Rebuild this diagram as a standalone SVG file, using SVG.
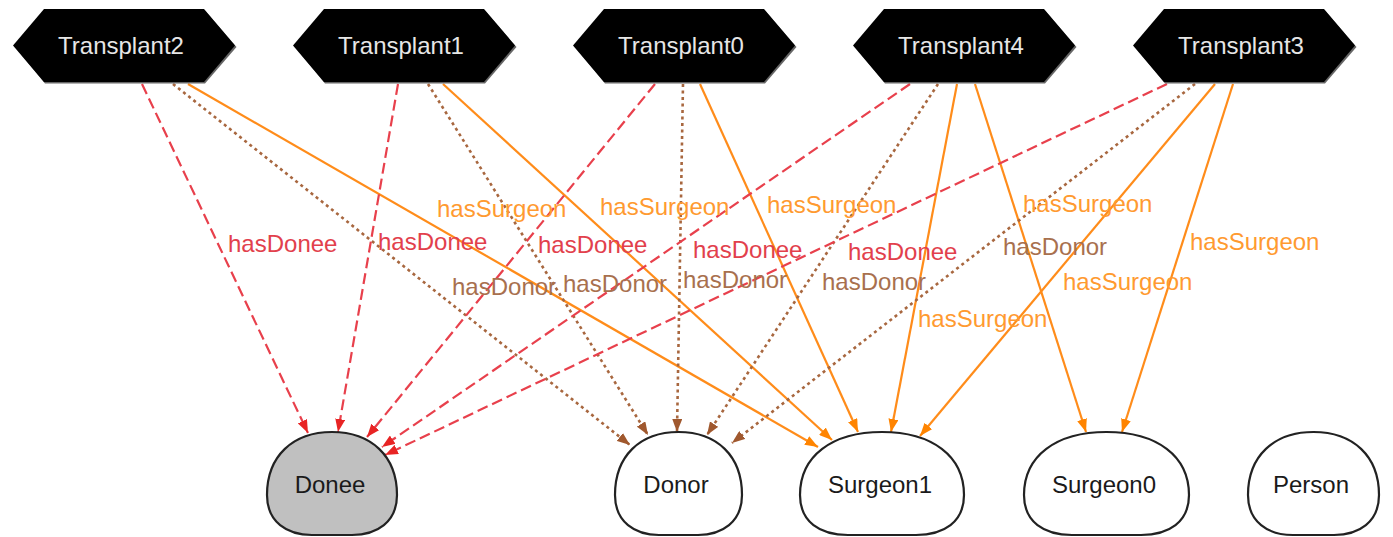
<svg xmlns="http://www.w3.org/2000/svg" width="1393" height="537" viewBox="0 0 1393 537">
<style>
text{font-family:"Liberation Sans",Arial,sans-serif;font-size:24px}
.hex{fill:#000}
.hexs{fill:#666}
.ht{fill:#e6e6e6;text-anchor:middle}
.cls{stroke:#222;stroke-width:2.2;fill:#fff}
.nt{fill:#1a1a1a;text-anchor:middle}
.don{stroke:#e8404c;stroke-width:2.2;stroke-dasharray:11,5;fill:none;marker-end:url(#ar)}
.dnr{stroke:#a8673f;stroke-width:2.6;stroke-dasharray:3,3.5;fill:none;marker-end:url(#ab)}
.sur{stroke:#ff8c1a;stroke-width:2.2;fill:none;marker-end:url(#ao)}
.ld{fill:#e2404c}
.lb{fill:#a8704e}
.lo{fill:#ff9a30}
</style>
<defs>
<marker id="ar" markerUnits="userSpaceOnUse" markerWidth="14" markerHeight="10" refX="13" refY="5" orient="auto"><path d="M0,0 L13,5 L0,10 z" fill="#e82424"/></marker>
<marker id="ab" markerUnits="userSpaceOnUse" markerWidth="14" markerHeight="10" refX="13" refY="5" orient="auto"><path d="M0,0 L13,5 L0,10 z" fill="#a0582e"/></marker>
<marker id="ao" markerUnits="userSpaceOnUse" markerWidth="14" markerHeight="10" refX="13" refY="5" orient="auto"><path d="M0,0 L13,5 L0,10 z" fill="#ff8400"/></marker>
</defs>
<g id="connectors">
<line class="don" x1="142" y1="84" x2="308" y2="433"/>
<line class="dnr" x1="173" y1="84" x2="630" y2="445"/>
<line class="sur" x1="188" y1="84" x2="818" y2="447"/>
<line class="don" x1="398" y1="84" x2="338" y2="432"/>
<line class="dnr" x1="428" y1="84" x2="648" y2="435"/>
<line class="sur" x1="443" y1="84" x2="832" y2="440"/>
<line class="don" x1="655" y1="84" x2="367" y2="437"/>
<line class="dnr" x1="683" y1="84" x2="677" y2="432"/>
<line class="sur" x1="700" y1="84" x2="858" y2="432"/>
<line class="don" x1="910" y1="84" x2="382" y2="447"/>
<line class="dnr" x1="938" y1="84" x2="707" y2="435"/>
<line class="sur" x1="957" y1="84" x2="891" y2="432"/>
<line class="sur" x1="975" y1="84" x2="1086" y2="432"/>
<line class="don" x1="1167" y1="84" x2="385" y2="455"/>
<line class="dnr" x1="1195" y1="84" x2="732" y2="443"/>
<line class="sur" x1="1215" y1="84" x2="920" y2="436"/>
<line class="sur" x1="1233" y1="84" x2="1122" y2="432"/>
<text class="ld" x="228" y="252">hasDonee</text>
<text class="ld" x="378" y="250">hasDonee</text>
<text class="ld" x="538" y="253">hasDonee</text>
<text class="ld" x="693" y="258">hasDonee</text>
<text class="ld" x="848" y="260">hasDonee</text>
<text class="lb" x="452" y="295">hasDonor</text>
<text class="lb" x="563" y="292">hasDonor</text>
<text class="lb" x="683" y="288">hasDonor</text>
<text class="lb" x="822" y="290">hasDonor</text>
<text class="lb" x="1003" y="255">hasDonor</text>
<text class="lo" x="437" y="217">hasSurgeon</text>
<text class="lo" x="600" y="215">hasSurgeon</text>
<text class="lo" x="767" y="213">hasSurgeon</text>
<text class="lo" x="918" y="327">hasSurgeon</text>
<text class="lo" x="1023" y="212">hasSurgeon</text>
<text class="lo" x="1063" y="290">hasSurgeon</text>
<text class="lo" x="1190" y="250">hasSurgeon</text>
</g>
<g id="Transplant2">
<polygon class="hexs" points="15,47 45,10.5 205,10.5 236.5,47 205,83.5 45,83.5"/>
<polygon class="hex" points="13,45.5 44,9 204,9 235,45.5 204,82 44,82"/>
<text class="ht" x="121" y="54">Transplant2</text>
</g>
<g id="Transplant1">
<polygon class="hexs" points="295,47 325,10.5 485,10.5 516.5,47 485,83.5 325,83.5"/>
<polygon class="hex" points="293,45.5 324,9 484,9 515,45.5 484,82 324,82"/>
<text class="ht" x="401" y="54">Transplant1</text>
</g>
<g id="Transplant0">
<polygon class="hexs" points="575,47 605,10.5 765,10.5 796.5,47 765,83.5 605,83.5"/>
<polygon class="hex" points="573,45.5 604,9 764,9 795,45.5 764,82 604,82"/>
<text class="ht" x="681" y="54">Transplant0</text>
</g>
<g id="Transplant4">
<polygon class="hexs" points="855,47 885,10.5 1045,10.5 1076.5,47 1045,83.5 885,83.5"/>
<polygon class="hex" points="853,45.5 884,9 1044,9 1075,45.5 1044,82 884,82"/>
<text class="ht" x="961" y="54">Transplant4</text>
</g>
<g id="Transplant3">
<polygon class="hexs" points="1135,47 1165,10.5 1325,10.5 1356.5,47 1325,83.5 1165,83.5"/>
<polygon class="hex" points="1133,45.5 1164,9 1324,9 1355,45.5 1324,82 1164,82"/>
<text class="ht" x="1241" y="54">Transplant3</text>
</g>
<g id="Donee">
<path class="cls" style="fill:#c0c0c0" d="M267,495 C267,456 293,432 332,432 C371,432 397,456 397,495 C397,522 377,535 352,535 L312,535 C287,535 267,522 267,495 Z"/>
<text class="nt" x="330" y="493">Donee</text>
</g>
<g id="Donor">
<path class="cls" d="M615,495 C615,456 640,432 678.5,432 C717,432 742,456 742,495 C742,522 722,535 698,535 L659,535 C635,535 615,522 615,495 Z"/>
<text class="nt" x="676" y="493">Donor</text>
</g>
<g id="Surgeon1">
<path class="cls" d="M800,495 C800,456 832,432 882,432 C932,432 964,456 964,495 C964,522 944,535 916,535 L848,535 C820,535 800,522 800,495 Z"/>
<text class="nt" x="880" y="493">Surgeon1</text>
</g>
<g id="Surgeon0">
<path class="cls" d="M1024,495 C1024,456 1056,432 1106.5,432 C1157,432 1189,456 1189,495 C1189,522 1169,535 1141,535 L1072,535 C1044,535 1024,522 1024,495 Z"/>
<text class="nt" x="1104" y="493">Surgeon0</text>
</g>
<g id="Person">
<path class="cls" d="M1248,495 C1248,456 1274,432 1313.5,432 C1353,432 1379,456 1379,495 C1379,522 1359,535 1334,535 L1293,535 C1268,535 1248,522 1248,495 Z"/>
<text class="nt" x="1311" y="493">Person</text>
</g>
</svg>
